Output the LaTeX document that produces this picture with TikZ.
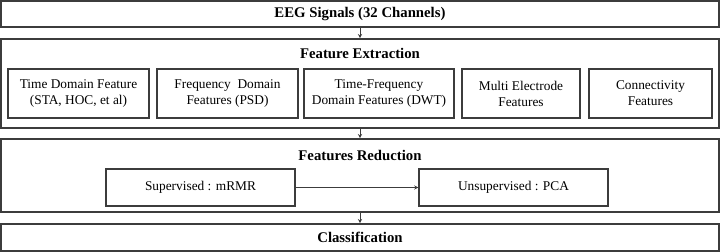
\documentclass[tikz,border=0pt]{standalone}
\usepackage{fontspec}
\setmainfont{Liberation Serif}
\usetikzlibrary{arrows.meta, positioning}
\definecolor{dgray}{RGB}{60,60,60}

\begin{document}
\begin{tikzpicture}[
  stage/.style={rectangle,draw=dgray,line width=1.1pt,minimum width=17.95cm,
                inner sep=0pt},
  title/.style={font=\fontsize{10.5}{12}\selectfont\bfseries},
  feat/.style={rectangle,draw=dgray,line width=0.9pt,minimum height=1.225cm,
               font=\fontsize{9.5}{11.4}\selectfont,align=center,inner sep=1pt},
  red/.style={rectangle,draw=dgray,line width=0.9pt,minimum width=4.725cm,
              minimum height=0.925cm,font=\fontsize{9.5}{11.4}\selectfont},
  arr/.style={-{Stealth[length=3pt,width=3pt]},dgray,line width=0.7pt}
]
\useasboundingbox (0,0) rectangle (18,-6.3);

% stages
\node[stage,minimum height=0.65cm,title] (eeg) at (9,-0.35) {EEG Signals (32 Channels)};
\node[stage,minimum height=2.225cm] (fe) at (9,-2.0875) {};
\node[stage,minimum height=1.825cm] (fr) at (9,-4.3875) {};
\node[stage,minimum height=0.675cm,title] (cls) at (9,-5.9375) {Classification};

\node[title] (fetitle) at (9,-1.33) {Feature Extraction};
\node[title] (frtitle) at (9,-3.88) {Features Reduction};

% feature boxes
\node[feat,minimum width=3.525cm] (time) at (1.9625,-2.3375) {Time Domain Feature\\(STA, HOC, et al)};
\node[feat,minimum width=3.525cm] (freq) at (5.6875,-2.3375) {Frequency\ \ Domain\\Features (PSD)};
\node[feat,minimum width=3.75cm]  (tf)   at (9.475,-2.3375)  {Time-Frequency\\Domain Features (DWT)};
\node[feat,minimum width=2.95cm]  (multi) at (13.025,-2.3375) {Multi Electrode\\Features};
\node[feat,minimum width=3.075cm] (conn) at (16.2625,-2.3375) {Connectivity\\Features};

% reduction
\node[red] (sup)   at (5.0125,-4.6875)  {Supervised : mRMR};
\node[red] (unsup) at (12.8375,-4.6875) {Unsupervised : PCA};

\draw[arr] (eeg) -- (fe);
\draw[arr] (fe) -- (fr);
\draw[arr] (fr) -- (cls);
\draw[arr] (sup) -- (unsup);
\end{tikzpicture}
\end{document}
